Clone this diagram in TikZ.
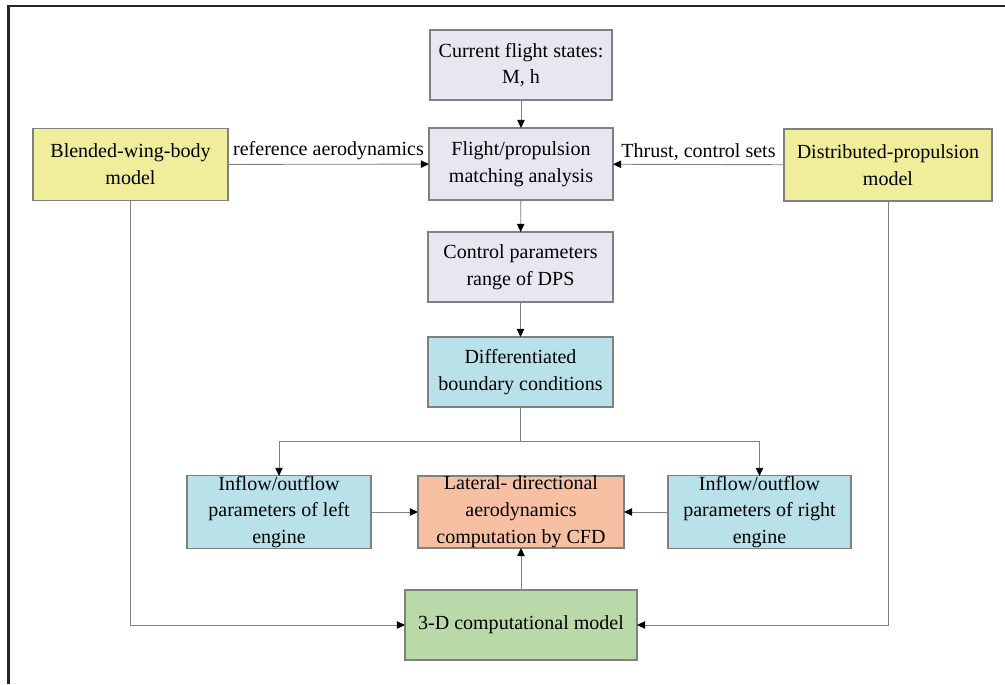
\documentclass[tikz,border=0pt]{standalone}
\usepackage{fontspec}
\setmainfont{Liberation Serif}
\usetikzlibrary{arrows.meta}

\definecolor{boxgrey}{RGB}{232,230,240}
\definecolor{boxyellow}{RGB}{240,237,155}
\definecolor{boxcyan}{RGB}{185,225,234}
\definecolor{boxorange}{RGB}{247,192,162}
\definecolor{boxgreen}{RGB}{185,218,168}
\definecolor{lineg}{RGB}{128,128,128}

\tikzset{
  blk/.style={draw=lineg, line width=0.6pt, align=center, inner sep=0pt, outer sep=0pt,
    font=\fontsize{11.4}{15.3}\selectfont},
  conn/.style={draw=lineg, line width=0.5pt, -{Triangle[color=black,length=4.6pt,width=4.2pt]}},
  lbl/.style={font=\fontsize{11.4}{14}\selectfont, inner sep=2pt}
}

\begin{document}
\begin{tikzpicture}[x=0.02cm, y=-0.02cm]
    \useasboundingbox (0,0) rectangle (1005,684);
    % frame
    \draw[line width=1.4pt, black!85] (8.5,684) -- (8.5,6) -- (1005,6);

    % top column
    \node[blk, fill=boxgrey, minimum width=182*0.02cm, minimum height=70*0.02cm] (cur) at (521,65) {Current flight states:\\M, h};
    \node[blk, fill=boxgrey, minimum width=184*0.02cm, minimum height=72*0.02cm] (match) at (521,164) {Flight/propulsion\\matching analysis};
    \node[blk, fill=boxyellow, minimum width=195*0.02cm, minimum height=72*0.02cm] (bwb) at (130.5,164.5) {Blended-wing-body\\model};
    \node[blk, fill=boxyellow, minimum width=208*0.02cm, minimum height=72*0.02cm] (dp) at (888,165) {Distributed-propulsion\\model};
    \node[blk, fill=boxgrey, minimum width=185*0.02cm, minimum height=70*0.02cm] (ctrl) at (520.5,267) {Control parameters\\range of DPS};
    \node[blk, fill=boxcyan, minimum width=185*0.02cm, minimum height=70*0.02cm] (diff) at (520.5,372) {Differentiated\\boundary conditions};

    % lower row
    \node[blk, fill=boxcyan, minimum width=184*0.02cm, minimum height=72*0.02cm] (left) at (279,512) {Inflow/outflow\\parameters of left\\engine};
    \node[blk, fill=boxorange, minimum width=206*0.02cm, minimum height=72*0.02cm] (cfd) at (521,512) {Lateral- directional\\aerodynamics\\computation by CFD};
    \node[blk, fill=boxcyan, minimum width=183*0.02cm, minimum height=72*0.02cm] (right) at (759.5,512) {Inflow/outflow\\parameters of right\\engine};
    \node[blk, fill=boxgreen, minimum width=232*0.02cm, minimum height=70*0.02cm] (model) at (521,625) {3-D computational model};

    \coordinate (split) at (520.5,441);

    % connectors
    \draw[conn] (cur) -- (match);
    \draw[conn] (bwb) -- node[lbl, above] {reference aerodynamics} (match);
    \draw[conn] (dp) -- node[lbl, above] {Thrust, control sets} (match);
    \draw[conn] (match) -- (ctrl);
    \draw[conn] (ctrl) -- (diff);
    \draw[conn] (diff.south) -- (split) -| (left.north);
    \draw[conn] (split) -| (right.north);
    \draw[conn] (left) -- (cfd);
    \draw[conn] (right) -- (cfd);
    \draw[conn] (model) -- (cfd);
    \draw[conn] (bwb.south) |- (model.west);
    \draw[conn] (dp.south) |- (model.east);
\end{tikzpicture}
\end{document}
